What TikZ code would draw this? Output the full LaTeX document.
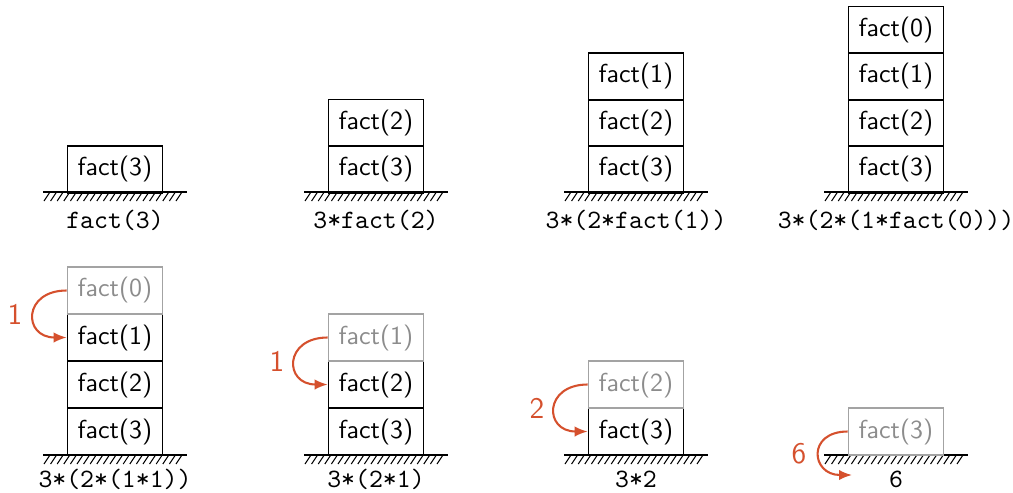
\documentclass[tikz,border=0pt]{standalone}
\usepackage{fontspec}
\usetikzlibrary{arrows.meta}

\definecolor{accent}{HTML}{D5502D}
\definecolor{faded}{gray}{0.55}

\tikzset{
  frame/.style={draw=black, line width=0.6pt, minimum width=36.6pt,
    minimum height=18.1pt, inner sep=0pt, font=\sffamily},
  spent/.style={frame, draw=faded!80, text=faded},
  result/.style={font=\ttfamily\fontsize{10.2}{12}\selectfont, anchor=base, inner sep=0pt},
  ret/.style={draw=accent, line width=0.8pt, -{Latex[length=5pt,width=4pt]},
    out=180, in=180, looseness=2.4},
  retval/.style={text=accent, font=\sffamily\fontsize{11.5}{13}\selectfont},
  ground/.pic={
    \draw[line width=0.6pt] (-72,0) -- (72,0);
    \foreach \i in {-71,-64.4,...,66}
      \draw[line width=0.4pt] (\i,9) -- (\i+6,0);
  },
}

\begin{document}
\begin{tikzpicture}[x=0.385pt, y=-0.385pt]
\useasboundingbox (0,0) rectangle (1013,492);

% ---- top row: the stack grows ----
\pic at (115,192) {ground};
\node[frame] (a3) at (115,169.5) {fact(3)};
\node[result] (ra) at (115,228) {fact(3)};

\pic at (376,192) {ground};
\node[frame] (b3) at (376,169.5) {fact(3)};
\node[frame] (b2) at (376,123) {fact(2)};
\node[result] (rb) at (376,228) {3*fact(2)};

\pic at (636,192) {ground};
\node[frame] (c3) at (636,169.5) {fact(3)};
\node[frame] (c2) at (636,123) {fact(2)};
\node[frame] (c1) at (636,76.5) {fact(1)};
\node[result] (rc) at (636,228) {3*(2*fact(1))};

\pic at (896,192) {ground};
\node[frame] (d3) at (896,169.5) {fact(3)};
\node[frame] (d2) at (896,123) {fact(2)};
\node[frame] (d1) at (896,76.5) {fact(1)};
\node[frame] (d0) at (896,30) {fact(0)};
\node[result] (rd) at (896,228) {3*(2*(1*fact(0)))};

% ---- bottom row: the stack unwinds ----
\pic at (115,455) {ground};
\node[frame] (e3) at (115,431.5) {fact(3)};
\node[frame] (e2) at (115,384.5) {fact(2)};
\node[frame] (e1) at (115,337.5) {fact(1)};
\node[spent] (e0) at (115,290.5) {fact(0)};
\draw[ret] (e0.west) to (e1.west);
\node[retval] (ve) at (15,314) {1};
\node[result] (re) at (115,487) {3*(2*(1*1))};

\pic at (376,455) {ground};
\node[frame] (f3) at (376,431.5) {fact(3)};
\node[frame] (f2) at (376,384.5) {fact(2)};
\node[spent] (f1) at (376,337.5) {fact(1)};
\draw[ret] (f1.west) to (f2.west);
\node[retval] (vf) at (277,361) {1};
\node[result] (rf) at (376,487) {3*(2*1)};

\pic at (636,455) {ground};
\node[frame] (g3) at (636,431.5) {fact(3)};
\node[spent] (g2) at (636,384.5) {fact(2)};
\draw[ret] (g2.west) to (g3.west);
\node[retval] (vg) at (537,408) {2};
\node[result] (rg) at (636,487) {3*2};

\pic at (896,455) {ground};
\node[spent] (h3) at (896,431.5) {fact(3)};
\coordinate (hout) at (852,475);
\draw[ret] (h3.west) to (hout);
\node[retval] (vh) at (799,454) {6};
\node[result] (rh) at (896,487) {6};
\end{tikzpicture}
\end{document}
